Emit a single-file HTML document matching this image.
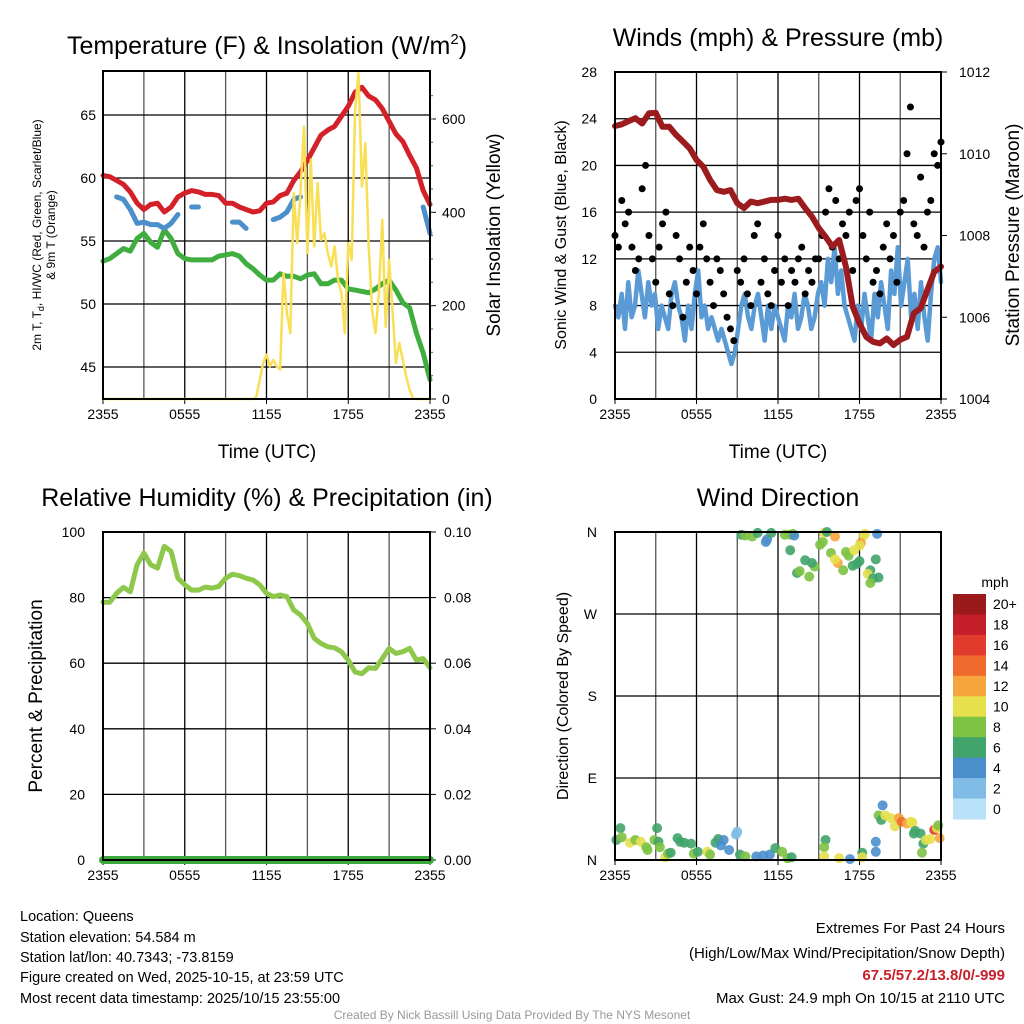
<!DOCTYPE html>
<html><head><meta charset="utf-8"><style>
html,body{margin:0;padding:0;background:#fff;}
svg{display:block;font-family:"Liberation Sans",sans-serif;}
</style></head><body>
<svg id="c" width="1024" height="1024" viewBox="0 0 1024 1024" xmlns="http://www.w3.org/2000/svg">
<text x="267" y="54" font-size="25" text-anchor="middle">Temperature (F) &amp; Insolation (W/m<tspan font-size="15" dy="-10">2</tspan><tspan dy="10">)</tspan></text>
<text x="778" y="46" font-size="25" text-anchor="middle">Winds (mph) &amp; Pressure (mb)</text>
<text x="267" y="506" font-size="25" text-anchor="middle">Relative Humidity (%) &amp; Precipitation (in)</text>
<text x="778" y="506" font-size="25" text-anchor="middle">Wind Direction</text>
<text transform="translate(41,235) rotate(-90)" font-size="12" text-anchor="middle">2m T, T<tspan font-size="9" dy="3">d</tspan><tspan dy="-3">, HI/WC (Red, Green, Scarlet/Blue)</tspan></text>
<text transform="translate(55,235) rotate(-90)" font-size="12" text-anchor="middle">&amp; 9m T (Orange)</text>
<text transform="translate(500,235) rotate(-90)" font-size="19" text-anchor="middle">Solar Insolation (Yellow)</text>
<text transform="translate(566,235) rotate(-90)" font-size="16" text-anchor="middle">Sonic Wind &amp; Gust (Blue, Black)</text>
<text transform="translate(1019,235) rotate(-90)" font-size="19" text-anchor="middle">Station Pressure (Maroon)</text>
<text transform="translate(42,696) rotate(-90)" font-size="19" text-anchor="middle">Percent &amp; Precipitation</text>
<text transform="translate(568,696) rotate(-90)" font-size="16" text-anchor="middle">Direction (Colored By Speed)</text>
<text x="267" y="458" font-size="19" text-anchor="middle">Time (UTC)</text>
<text x="778" y="458" font-size="19" text-anchor="middle">Time (UTC)</text>
<text x="995" y="587" font-size="14" text-anchor="middle">mph</text>
<g font-size="14.5">
<text x="20" y="921">Location: Queens</text>
<text x="20" y="942">Station elevation: 54.584 m</text>
<text x="20" y="962">Station lat/lon: 40.7343; -73.8159</text>
<text x="20" y="982">Figure created on Wed, 2025-10-15, at 23:59 UTC</text>
<text x="20" y="1003">Most recent data timestamp: 2025/10/15 23:55:00</text>
</g>
<g font-size="15" text-anchor="end">
<text x="1005" y="933">Extremes For Past 24 Hours</text>
<text x="1005" y="958">(High/Low/Max Wind/Precipitation/Snow Depth)</text>
<text x="1005" y="980" fill="#c8202a" font-weight="bold">67.5/57.2/13.8/0/-999</text>
<text x="1005" y="1003">Max Gust: 24.9 mph On 10/15 at 2110 UTC</text>
</g>
<text x="512" y="1019" font-size="12" fill="#999" text-anchor="middle">Created By Nick Bassill Using Data Provided By The NYS Mesonet</text>
</svg>
<script>
// ---- data ----
const xTickLabels = ["2355","0555","1155","1755","2355"];
const tempTicks = [45,50,55,60,65];
const insolTicks = [0,200,400,600];
const windTicks = [0,4,8,12,16,20,24,28];
const presTicks = [1004,1006,1008,1010,1012];
const rhTicks = [0,20,40,60,80,100];
const precipTickLabels = ["0.00","0.02","0.04","0.06","0.08","0.10"];
const dirTickLabels = ["N","E","S","W","N"];
const speedBinLabels = ["0","2","4","6","8","10","12","14","16","18","20+"];
const speedColors = ["#b7e2f7","#80bce6","#4a8fcc","#41a46a","#7dc243","#e6e04d","#f6a53c","#ef6a2c","#e03b2c","#c41f28","#9a1a1c"];

const tempRed = [60.2,60.1,59.8,59.5,58.9,58.0,57.5,57.9,58.0,57.3,57.7,58.5,58.8,59.0,58.9,58.7,58.7,58.6,58.0,58.0,57.7,57.5,57.3,57.4,58.0,58.1,58.6,58.8,59.8,60.5,61.4,62.4,63.4,63.8,64.1,64.9,65.7,66.8,67.2,66.5,66.2,65.5,64.5,63.5,62.9,61.8,60.8,59.0,57.9];
const dewGreen = [53.4,53.6,54.0,54.4,54.2,55.2,55.6,54.9,54.5,55.9,55.2,54.0,53.6,53.5,53.5,53.5,53.5,53.8,53.9,54.0,53.8,53.2,52.8,52.3,51.9,51.9,52.4,52.2,52.2,52.0,52.3,52.4,51.6,51.6,51.9,51.9,51.2,51.1,51.0,50.9,51.2,51.6,51.9,51.1,50.1,49.7,47.7,46.1,44.0];
const wcBlue = [null,null,58.5,58.3,57.5,56.4,56.5,56.3,56.3,56.0,56.4,57.1,null,57.7,57.7,null,null,null,null,56.5,56.5,56.0,null,null,null,56.7,56.9,57.3,58.3,58.5,null,null,null,null,null,null,null,null,null,null,null,null,null,null,null,null,null,57.7,55.6];
const insolation = [0,0,0,0,0,0,0,0,0,0,0,0,0,0,0,0,0,0,0,0,0,0,0,0,0,0,0,0,0,0,0,0,0,0,0,0,0,0,0,0,0,0,0,0,0,
5,40,77,95,70,84,70,63,270,184,141,441,334,448,584,313,513,327,463,341,355,313,284,327,256,227,141,334,298,620,698,455,548,327,191,141,227,384,155,298,191,77,120,84,48,20,2,0,
0,0,0,0];
const pressure = [1010.68,1010.72,1010.8,1010.87,1010.74,1010.99,1011.0,1010.66,1010.66,1010.46,1010.30,1010.13,1009.85,1009.68,1009.36,1009.11,1009.07,1009.11,1008.79,1008.67,1008.83,1008.79,1008.83,1008.87,1008.87,1008.9,1008.87,1008.9,1008.67,1008.46,1008.18,1007.97,1007.73,1007.89,1007.24,1006.26,1005.85,1005.52,1005.40,1005.36,1005.48,1005.32,1005.45,1005.52,1006.10,1006.22,1006.67,1007.11,1007.24];
const windSpeed = [8,7,9,6,10,7,8,11,9,7,10,8,9,6,8,7,6,9,10,8,7,5,8,6,9,11,7,8,6,7,6,5,6,5,4,3,4,6,8,9,7,6,8,9,7,5,8,6,8,7,6,5,8,7,9,6,7,9,8,6,7,9,10,8,12,10,13,9,11,8,7,6,5,8,6,9,7,5,9,7,10,8,6,11,9,13,8,10,12,7,9,6,10,7,5,9,12,13,10];
const windGust = [14,13,17,15,16,13,11,12,18,20,14,12,10,13,15,16,9,8,14,12,7,10,13,11,9,13,15,12,10,8,12,11,9,7,6,5,11,10,12,9,8,14,15,10,12,9,8,11,14,10,12,8,11,10,12,13,9,11,10,12,12,14,16,18,13,17,12,15,14,16,11,17,18,14,12,16,10,11,9,13,15,12,14,10,16,17,21,25,15,14,19,13,16,17,21,20,22];
const relHum = [78.6,78.6,81.3,83.1,81.8,90,93.6,90,89,95.6,94.1,85.9,83.9,82.3,82.3,83.2,82.9,83.4,85.9,87.1,86.7,85.9,85.4,83.9,81.3,80.3,80.8,80.3,76.2,74.7,72.1,67.6,66.0,65.0,64.7,63.5,60.9,57.3,56.8,58.6,58.4,61.4,64.5,63,63.5,64.5,60.9,61.4,58.6];
const precip = [0,0,0,0,0,0,0,0,0,0,0,0,0,0,0,0,0,0,0,0,0,0,0,0,0];
const dirHours = [9.3,9.6,10.1,10.5,11.1,11.2,11.5,12.5,12.9,13.1,12.9,13.2,14.0,13.4,13.6,14.3,14.7,14.5,15.1,15.3,15.4,15.6,16.2,15.9,16.4,16.2,17.0,17.2,17.6,16.8,17.5,17.8,18.3,18.4,18.1,18.0,18.0,19.2,19.3,18.8,18.6,19.0,18.8,19.4,
0.1,0.4,0.5,1.1,1.5,1.9,2.3,2.4,2.9,3.2,3.1,3.3,3.7,3.9,4.1,4.6,4.8,5.1,5.6,5.8,6.1,6.8,7.0,7.4,7.6,7.8,8.0,8.4,8.9,9.0,9.2,9.6,10.4,10.9,11.4,11.8,12.3,12.7,13.0,15.5,15.4,15.4,16.5,17.3,18.2,18.2,19.2,19.2,19.7,19.4,19.6,19.9,20.3,20.6,20.9,21.1,21.5,21.8,21.9,22.1,22.0,22.5,22.7,22.6,22.9,23.2,23.5,23.7,23.9,23.8];
const dirDegrees = [357,356,355,359,349,352,359,357,357,358,340,356,329,315,317,311,322,326,346,349,359,360,355,337,326,330,338,334,340,318,323,325,356,358,348,345,328,330,358,318,314,309,304,310,
22,35,25,19,22,20,14,11,22,20,35,14,3,7,8,24,20,19,18,7,9,9,6,19,23,16,22,11,28,31,6,4,4,5,6,13,9,2,3,22,14,4,2,1,8,3,20,9,60,49,44,49,46,37,46,42,40,42,41,32,29,29,18,8,22,23,33,35,24,38];
const dirSpeeds = [7,9,9,7,5,5,7,9,9,9,7,5,7,7,9,9,9,7,9,9,11,7,13,9,13,11,9,9,11,9,7,7,11,11,13,11,7,7,5,7,11,7,9,7,
7,7,9,11,9,11,9,9,9,7,7,9,11,9,7,7,7,7,7,9,7,11,9,7,7,5,5,5,3,3,7,9,5,5,5,7,9,9,7,7,9,11,11,5,7,11,5,5,5,9,7,11,11,11,13,15,13,11,11,7,7,7,7,9,11,11,16,11,13,9];

// ---- drawing ----
const svg = document.getElementById('c');
const NS = 'http://www.w3.org/2000/svg';
function mk(tag, attrs, parent){ const e=document.createElementNS(NS,tag); for(const k in attrs) e.setAttribute(k,attrs[k]); (parent||svg).appendChild(e); return e; }
function lin(d0,d1,r0,r1){ return v => r0 + (v-d0)*(r1-r0)/(d1-d0); }

function panel(name,L,R,T,B){
  const g = mk('g',{});
  
  
  const xs = lin(0,24,L,R);
  for(let h=3;h<24;h+=3){
    const gl = mk('line',{x1:xs(h),x2:xs(h),y1:T,y2:B,stroke:(h%6===0)?'#000':'#555','stroke-width':1.3},g);
    
    
  }
  for(let i=0;i<xTickLabels.length;i++){
    const t = mk('text',{x:xs(i*6),y:B+20,'font-size':14,'text-anchor':'middle'},g);
    t.textContent = xTickLabels[i];
    
    
    mk('line',{x1:xs(i*6),x2:xs(i*6),y1:B,y2:B+5,stroke:'#000'},g);
  }
  return {g,xs};
}
function hline(g,y,L,R){ const l=mk('line',{x1:L,x2:R,y1:y,y2:y,stroke:'#000','stroke-width':1.3},g);
  
   }
function ylabel(g,x,y,txt,anchor){ const t=mk('text',{x:x,y:y+5,'font-size':14,'text-anchor':anchor},g); t.textContent=txt;
  
   return t; }
function frame(g,L,R,T,B){ const r=mk('rect',{x:L,y:T,width:R-L,height:B-T,fill:'none',stroke:'#000','stroke-width':2},g);
  
   }
function series(g,arr,xs,ys,color,w,name){
  const n=arr.length; let d=''; let pen=false;
  for(let i=0;i<n;i++){
    const v=arr[i];
    if(v===null||v===undefined){pen=false;continue;}
    const x=xs(i*24/(n-1)), y=ys(v);
    d += (pen?'L':'M')+x.toFixed(1)+' '+y.toFixed(1)+' ';
    if(!pen) d += 'l0 0 ';
    pen=true;
  }
  const p=mk('path',{d:d,fill:'none',stroke:color,'stroke-width':w,'stroke-linejoin':'round','stroke-linecap':'round'},g);
  
  
  return p;
}

// Panel 1: temperature
{
  const L=103,R=430,T=71,B=399;
  const {g,xs} = panel('temperature-panel',L,R,T,B);
  const yT = lin(45,65,367,115);
  const yI = lin(0,600,399,119);
  tempTicks.forEach(v=>{ hline(g,yT(v),L,R); ylabel(g,L-7,yT(v),String(v),'end'); });
  insolTicks.forEach(v=>{ ylabel(g,R+12,yI(v),String(v),'start'); mk('line',{x1:R,x2:R+6,y1:yI(v),y2:yI(v),stroke:'#000'},g); });
  for(let v=50;v<700;v+=50){ mk('line',{x1:R,x2:R+3,y1:yI(v),y2:yI(v),stroke:'#555'},g); }
  series(g,dewGreen,xs,yT,'#3fae3f',5,'dewpoint-line');
  series(g,wcBlue,xs,yT,'#4b90ca',5,'wind-chill-line');
  series(g,tempRed,xs,yT,'#d42129',5,'temperature-line');
  series(g,insolation,xs,yI,'#f8df55',2.5,'insolation-line');
  frame(g,L,R,T,B);
}
// Panel 2: wind & pressure
{
  const L=615,R=941,T=72,B=399;
  const {g,xs} = panel('wind-panel',L,R,T,B);
  const yW = lin(0,28,399,72);
  const yP = lin(1004,1012,399,72);
  windTicks.forEach(v=>{ if(v>0&&v<28) hline(g,yW(v),L,R); ylabel(g,L-18,yW(v),String(v),'end'); });
  presTicks.forEach(v=>{ ylabel(g,R+18,yP(v),String(v),'start'); mk('line',{x1:R,x2:R+6,y1:yP(v),y2:yP(v),stroke:'#000'},g); });
  series(g,windSpeed,xs,yW,'#5b9bd5',4.5,'wind-speed-line');
  const n=windGust.length;
  for(let i=0;i<n;i++){
    const c=mk('circle',{cx:xs(i*24/(n-1)),cy:yW(windGust[i]),r:3.5,fill:'#000'},g);
    
    
  }
  series(g,pressure,xs,yP,'#9b1b1f',6,'pressure-line');
  frame(g,L,R,T,B);
}
// Panel 3: RH
{
  const L=103,R=430,T=532,B=860;
  const {g,xs} = panel('humidity-panel',L,R,T,B);
  const yR = lin(0,100,860,532);
  rhTicks.forEach((v,i)=>{ if(v>0&&v<100) hline(g,yR(v),L,R); ylabel(g,L-18,yR(v),String(v),'end'); ylabel(g,R+14,yR(v),precipTickLabels[i],'start'); mk('line',{x1:R,x2:R+6,y1:yR(v),y2:yR(v),stroke:'#000'},g); });
  series(g,relHum,xs,yR,'#8dc84b',5,'humidity-line');
  series(g,precip.map(v=>v*1000),xs,yR,'#3aa83a',8,'precipitation-line');
  frame(g,L,R,T,B);
}
// Panel 4: wind direction
{
  const L=615,R=941,T=532,B=860;
  const {g,xs} = panel('direction-panel',L,R,T,B);
  const yD = lin(0,360,860,532);
  dirTickLabels.forEach((s,i)=>{ const v=i*90; if(v>0&&v<360) hline(g,yD(v),L,R); ylabel(g,L-18,yD(v),s,'end'); });
  for(let i=0;i<dirHours.length;i++){
    const b=Math.min(10,Math.floor(dirSpeeds[i]/2));
    const c=mk('circle',{cx:xs(dirHours[i]),cy:yD(dirDegrees[i]),r:5,fill:speedColors[b],'fill-opacity':0.9},g);
    
    
  }
  frame(g,L,R,T,B);
  const cb = mk('g',{});
  
  
  const top=594, h=225/11;
  for(let i=0;i<11;i++){
    const k=10-i;
    const r=mk('rect',{x:953,y:top+i*h,width:33,height:h+0.5,fill:speedColors[k]},cb);
    
    
    const t=mk('text',{x:993,y:top+i*h+h/2+5,'font-size':14},cb);
    t.textContent=speedBinLabels[k];
    
    
  }
}
</script>
</body></html>
